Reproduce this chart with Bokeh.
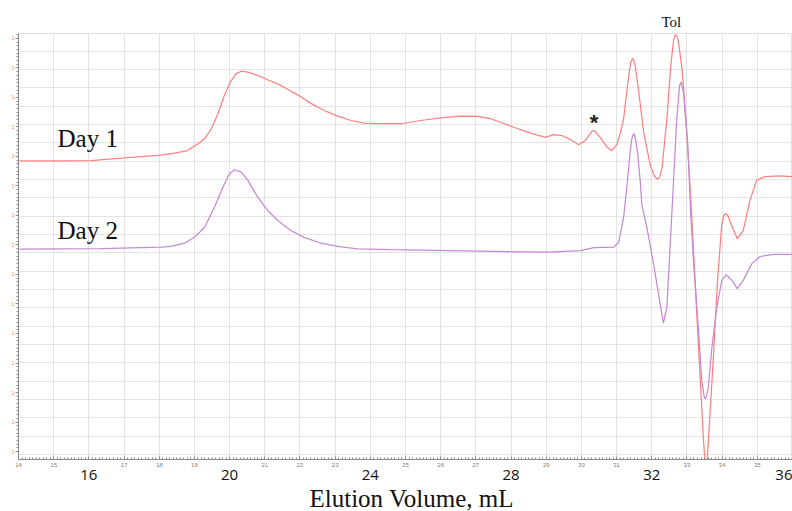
from bokeh.plotting import figure
from bokeh.models import Range1d, LinearAxis, FixedTicker, Label, Title
from bokeh.embed import file_html
from bokeh.resources import INLINE

# ---- data (elution volume mL, detector signal, arb. units)
day1_vol = [14.03, 15.22, 16.07, 16.64, 17.01, 18.06, 18.48, 18.81, 19.10, 19.29, 19.48, 19.67,
            19.85, 20.02, 20.18, 20.33, 20.52, 20.80, 21.08, 21.37, 21.65, 22.03, 22.31, 22.69,
            23.07, 23.45, 23.82, 24.20, 24.87, 25.43, 26.00, 26.57, 27.04, 27.42, 27.70, 28.08,
            28.55, 28.98, 29.21, 29.45, 29.69, 29.92, 30.11, 30.30, 30.37, 30.54, 30.73, 30.85,
            31.01, 31.11, 31.20, 31.31, 31.40, 31.46, 31.53, 31.63, 31.77, 31.96, 32.08, 32.15,
            32.22, 32.29, 32.43, 32.54, 32.62, 32.67, 32.72, 32.76, 32.86, 32.95, 33.04, 33.12,
            33.23, 33.38, 33.47, 33.52, 33.57, 33.61, 33.74, 33.87, 33.99, 34.05, 34.11, 34.17,
            34.25, 34.43, 34.60, 34.79, 34.98, 35.22, 35.65, 35.99]
day1_sig = [9.85, 9.85, 9.86, 9.92, 9.95, 10.05, 10.12, 10.20, 10.43, 10.60, 10.94, 11.45,
            12.07, 12.52, 12.80, 12.89, 12.86, 12.75, 12.60, 12.46, 12.28, 12.02, 11.80, 11.56,
            11.37, 11.22, 11.13, 11.11, 11.11, 11.22, 11.31, 11.37, 11.36, 11.28, 11.16, 10.99,
            10.79, 10.65, 10.74, 10.71, 10.57, 10.40, 10.54, 10.86, 10.88, 10.64, 10.32, 10.19,
            10.41, 10.81, 11.28, 12.41, 13.20, 13.33, 13.08, 12.18, 10.82, 9.69, 9.32, 9.24,
            9.30, 9.58, 11.28, 13.08, 13.95, 14.13, 14.08, 13.87, 12.97, 11.62, 9.92, 8.34,
            5.80, 2.41, 0.37, -0.40, -0.40, 0.37, 2.97, 5.80, 7.72, 8.02, 8.06, 7.98,
            7.72, 7.21, 7.49, 8.51, 9.19, 9.32, 9.34, 9.32]

day2_vol = [14.03, 16.35, 18.06, 18.34, 18.72, 19.00, 19.29, 19.57, 19.81, 19.99, 20.14, 20.33,
            20.52, 20.80, 21.08, 21.37, 21.74, 22.12, 22.60, 23.07, 23.64, 24.58, 27.13, 29.03,
            29.97, 30.35, 30.92, 31.06, 31.20, 31.30, 31.39, 31.44, 31.49, 31.53, 31.60, 31.67,
            31.72, 31.86, 32.05, 32.19, 32.33, 32.43, 32.52, 32.62, 32.71, 32.79, 32.83, 32.90,
            33.02, 33.11, 33.19, 33.33, 33.42, 33.49, 33.52, 33.55, 33.61, 33.71, 33.85, 33.99,
            34.11, 34.28, 34.43, 34.60, 34.84, 35.08, 35.46, 35.99]
day2_sig = [6.86, 6.88, 6.93, 6.95, 7.06, 7.26, 7.60, 8.28, 8.96, 9.41, 9.55, 9.47,
            9.19, 8.62, 8.17, 7.83, 7.49, 7.26, 7.06, 6.95, 6.87, 6.84, 6.79, 6.76,
            6.81, 6.91, 6.93, 7.09, 7.94, 9.07, 10.20, 10.65, 10.78, 10.65, 10.09, 9.19,
            8.34, 7.60, 6.36, 5.35, 4.35, 4.89, 6.93, 9.19, 11.28, 12.40, 12.52, 12.18,
            10.48, 8.00, 6.37, 4.10, 2.41, 1.85, 1.79, 1.85, 2.18, 3.54, 4.89, 5.80,
            5.99, 5.80, 5.52, 5.80, 6.36, 6.61, 6.68, 6.68]

x_ticks = list(range(14, 37))
x_big_ticks = [16, 20, 24, 28, 32, 36]
y_ticks = list(range(0, 15))

RED = "#ff8080"
PURPLE = "#c68ad2"

p = figure(width=792, height=511,
           x_range=Range1d(14.0, 36.0), y_range=Range1d(-0.271, 14.169),
           output_backend="svg", toolbar_location=None,
           min_border_left=18, min_border_right=0, min_border_top=33, min_border_bottom=52)
p.background_fill_color = "white"
p.border_fill_color = "white"
p.outline_line_color = "#e2e2e2"

# title used for the "Tol" peak marker above the frame
p.title.text = "Tol"
p.title.align = "left"
p.title.offset = 643
p.title.standoff = 8
p.title.text_font = "Liberation Serif"
p.title.text_font_size = "15px"
p.title.text_font_style = "normal"
p.title.text_color = "#111111"

# grids
p.xgrid.ticker = FixedTicker(ticks=list(range(15, 36)))
p.ygrid.ticker = FixedTicker(ticks=[(-3 + 18.33 * j) / 29.5 for j in range(24)])
p.xgrid.grid_line_color = "#e2e2e2"
p.ygrid.grid_line_color = "#e4e4e4"
p.grid.grid_line_width = 1

# curves
p.line(day1_vol, day1_sig, line_color=RED, line_width=1.25)
p.line(day2_vol, day2_sig, line_color=PURPLE, line_width=1.25)

# small instrument x-axis
xa = p.xaxis[0]
xa.ticker = FixedTicker(ticks=x_ticks, minor_ticks=[14 + 0.1 * i for i in range(221)])
xa.major_label_overrides = {t: "" for t in x_big_ticks}
xa.major_label_text_font_size = "6px"
xa.major_label_text_color = "#808080"
xa.major_label_text_font = "Liberation Sans"
xa.major_label_standoff = 3
xa.axis_line_color = "#8a8a8a"
xa.major_tick_line_color = "#8a8a8a"
xa.minor_tick_line_color = "#8a8a8a"
xa.major_tick_in = 3
xa.major_tick_out = 0
xa.minor_tick_in = 2
xa.minor_tick_out = 0

# big x-axis labels
xb = LinearAxis(ticker=FixedTicker(ticks=x_big_ticks))
xb.axis_line_color = None
xb.major_tick_line_color = None
xb.minor_tick_line_color = None
xb.major_label_text_font = "Open Sans"
xb.major_label_text_font_size = "15px"
xb.major_label_text_color = "#111111"
xb.major_label_standoff = -6
p.add_layout(xb, "below")

# x-axis title (placed slightly right of centre like the original)
xt = Title(text="Elution Volume, mL", align="left", offset=291, standoff=0,
           text_font="Liberation Serif", text_font_size="25px", text_font_style="normal",
           text_color="#111111")
p.add_layout(xt, "below")

# y-axis
ya = p.yaxis[0]
ya.ticker = FixedTicker(ticks=y_ticks, minor_ticks=[k / 8 for k in range(0, 114)])
ya.major_label_overrides = {t: "1" for t in y_ticks}
ya.major_label_text_font_size = "6px"
ya.major_label_text_color = "#ff8a8a"
ya.major_label_standoff = 1
ya.axis_line_color = "#8a8a8a"
ya.major_tick_line_color = "#8a8a8a"
ya.minor_tick_line_color = "#8a8a8a"
ya.major_tick_out = 3
ya.major_tick_in = 0
ya.minor_tick_out = 2
ya.minor_tick_in = 0

# annotations
serif = "Liberation Serif"
p.add_layout(Label(x=15.11, y=10.61, text="Day 1", text_font=serif, text_font_size="25px",
                   text_color="#111111", text_baseline="alphabetic"))
p.add_layout(Label(x=15.11, y=7.50, text="Day 2", text_font=serif, text_font_size="25px",
                   text_color="#111111", text_baseline="alphabetic"))
p.add_layout(Label(x=30.36, y=11.14, text="*", text_font="Liberation Sans", text_font_size="22px",
                   text_font_style="bold", text_color="#222222", text_align="center",
                   text_baseline="alphabetic"))

open("out.html", "w").write(file_html(p, INLINE))
